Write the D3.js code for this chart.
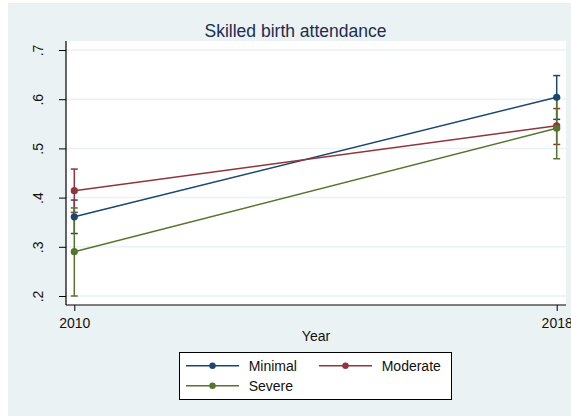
<!DOCTYPE html>
<html><head><meta charset="utf-8">
<script src="https://cdn.jsdelivr.net/npm/d3@7"></script>
<style>html,body{margin:0;padding:0;background:#fff;}svg{display:block;font-family:"Liberation Sans",Arial,sans-serif;}</style>
</head><body>
<script>
const years = [2010, 2018];
const seriesNames = ["Minimal", "Moderate", "Severe"];
const seriesColors = ["#1a476f", "#90353b", "#55752f"];
const minimalVals = [0.361, 0.604];
const minimalLo = [0.327, 0.559];
const minimalHi = [0.395, 0.648];
const moderateVals = [0.414, 0.546];
const moderateLo = [0.370, 0.508];
const moderateHi = [0.458, 0.581];
const severeVals = [0.290, 0.541];
const severeLo = [0.200, 0.479];
const severeHi = [0.379, 0.603];
const yTicks = [0.2, 0.3, 0.4, 0.5, 0.6, 0.7];
const yTickLabels = [".2", ".3", ".4", ".5", ".6", ".7"];
const title = "Skilled birth attendance";
const xTitle = "Year";

const series = [
  {name: seriesNames[0], color: seriesColors[0], v: minimalVals, lo: minimalLo, hi: minimalHi},
  {name: seriesNames[1], color: seriesColors[1], v: moderateVals, lo: moderateLo, hi: moderateHi},
  {name: seriesNames[2], color: seriesColors[2], v: severeVals, lo: severeLo, hi: severeHi}
];

const W = 571, H = 416;
const svg = d3.select("body").append("svg").attr("width", W).attr("height", H);
svg.append("rect").attr("x", 8).attr("y", 3).attr("width", W - 8).attr("height", H - 3).attr("fill", "#eaf2f3");

const pl = 66, pr = 566, pt = 41, pb = 305;
svg.append("rect").attr("x", pl).attr("y", pt).attr("width", pr - pl).attr("height", pb - pt).attr("fill", "#fff");

const x = d3.scaleLinear().domain([2010, 2018]).range([74.3, 556.7]);
const y = d3.scaleLinear().domain([0.2, 0.7]).range([296, 50]);

// gridlines
svg.append("g").selectAll("line").data(yTicks).join("line")
  .attr("x1", pl).attr("x2", pr).attr("y1", d => y(d)).attr("y2", d => y(d))
  .attr("stroke", "#eaf2f3").attr("stroke-width", 1.5);

// axes
const yAxis = d3.axisLeft(y).tickValues(yTicks).tickFormat((d, i) => yTickLabels[i]).tickSize(7).tickPadding(0);
const gy = svg.append("g").attr("transform", `translate(${pl},0)`).call(yAxis);
gy.select(".domain").attr("d", `M0,${pt}V${pb}`).attr("stroke", "#000").attr("stroke-width", 1.2);
gy.selectAll(".tick line").attr("stroke", "#000");
gy.selectAll(".tick text").attr("transform", "rotate(-90)").attr("x", 0).attr("y", -23.5)
  .attr("dy", 0).attr("text-anchor", "middle").attr("font-size", 14).attr("fill", "#111")
  .attr("dominant-baseline", "auto");

const xAxis = d3.axisBottom(x).tickValues(years).tickFormat(d3.format("d")).tickSize(6).tickPadding(4);
const gx = svg.append("g").attr("transform", `translate(0,${pb})`).call(xAxis);
gx.select(".domain").attr("d", `M${pl},0H${pr}`).attr("stroke", "#000").attr("stroke-width", 1.2);
gx.selectAll(".tick line").attr("stroke", "#000");
gx.selectAll(".tick text").attr("font-size", 14).attr("fill", "#111").attr("dy", "0.9em");

// error bars
const cap = 3.5;
series.forEach(s => {
  const g = svg.append("g").attr("stroke", s.color).attr("stroke-width", 1.5).attr("fill", "none");
  years.forEach((yr, i) => {
    g.append("line").attr("x1", x(yr)).attr("x2", x(yr)).attr("y1", y(s.lo[i])).attr("y2", y(s.hi[i]));
    g.append("line").attr("x1", x(yr) - cap).attr("x2", x(yr) + cap).attr("y1", y(s.lo[i])).attr("y2", y(s.lo[i]));
    g.append("line").attr("x1", x(yr) - cap).attr("x2", x(yr) + cap).attr("y1", y(s.hi[i])).attr("y2", y(s.hi[i]));
  });
});

// lines and markers
const line = d3.line().x((d, i) => x(years[i])).y(d => y(d));
series.forEach(s => {
  svg.append("path").datum(s.v).attr("d", line).attr("fill", "none").attr("stroke", s.color).attr("stroke-width", 1.5);
  svg.append("g").selectAll("circle").data(s.v).join("circle")
    .attr("cx", (d, i) => x(years[i])).attr("cy", d => y(d)).attr("r", 3.6).attr("fill", s.color);
});

// titles
svg.append("text").attr("x", 295.5).attr("y", 37).attr("text-anchor", "middle")
  .attr("font-size", 17.5).attr("fill", "#1e2d4f").text(title);
svg.append("text").attr("x", (pl + pr) / 2).attr("y", 340.5).attr("text-anchor", "middle")
  .attr("font-size", 14).attr("fill", "#111").text(xTitle);

// legend
const lg = svg.append("g");
lg.append("rect").attr("x", 179.5).attr("y", 352.5).attr("width", 272).attr("height", 47)
  .attr("fill", "#fff").attr("stroke", "#000").attr("stroke-width", 1);
const legPos = [[186, 365.7], [319, 365.7], [186, 385.7]];
series.forEach((s, i) => {
  const [lx, ly] = legPos[i];
  lg.append("line").attr("x1", lx).attr("x2", lx + 53).attr("y1", ly).attr("y2", ly)
    .attr("stroke", s.color).attr("stroke-width", 1.5);
  lg.append("circle").attr("cx", lx + 26.5).attr("cy", ly).attr("r", 3.2).attr("fill", s.color);
  lg.append("text").attr("x", lx + 62.7).attr("y", ly + 5).attr("font-size", 14).attr("fill", "#111").text(s.name);
});
</script>
</body></html>
